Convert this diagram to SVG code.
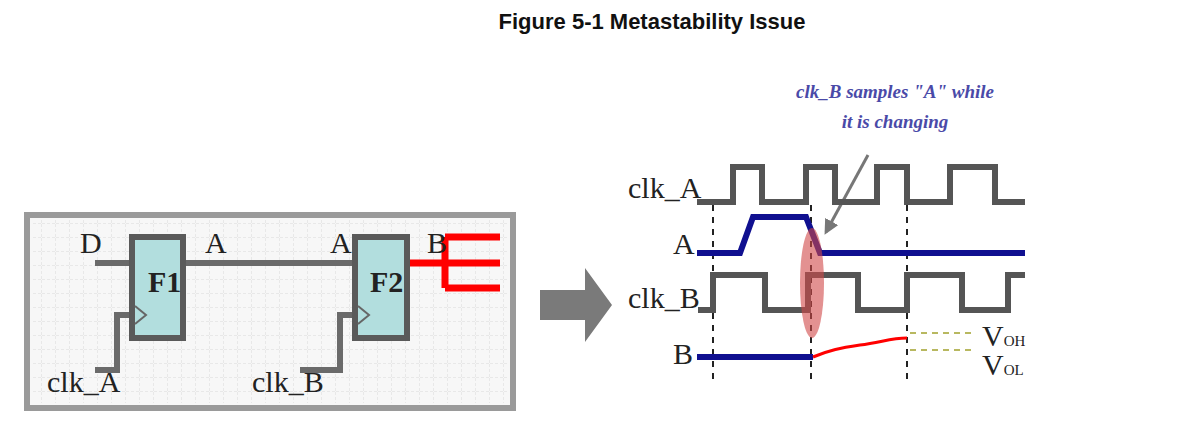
<svg xmlns="http://www.w3.org/2000/svg" width="1181" height="438" viewBox="0 0 1181 438">
<defs>
<pattern id="grid" width="14" height="14" patternUnits="userSpaceOnUse"><path d="M14 0V14M0 14H14" fill="none" stroke="#d8d8d8" stroke-width="1" stroke-dasharray="3 2"/></pattern>
<marker id="ah" viewBox="0 0 10 10" refX="8" refY="5" markerWidth="5" markerHeight="5" orient="auto"><path d="M0 0L10 5L0 10z" fill="#777"/></marker>
</defs>
<style>
.lbl{font-family:"Liberation Serif",serif;font-size:30px;fill:#222}
.ff{fill:#b2dede;stroke:#5a5a5a;stroke-width:6}
.w{fill:none;stroke:#6a6a6a;stroke-width:6}
.clk{fill:none;stroke:#555;stroke-width:6}
.sig{fill:none;stroke:#101090;stroke-width:6}
.dash{stroke:#222;stroke-width:2;stroke-dasharray:6 6}
.ol{stroke:#b8b860;stroke-width:2;stroke-dasharray:6 5}
</style>
<rect width="1181" height="438" fill="#fff"/>
<text x="652" y="29" text-anchor="middle" font-family="Liberation Sans,sans-serif" font-weight="bold" font-size="22" fill="#111">Figure 5-1 Metastability Issue</text>
<g id="board">
<rect x="27" y="215" width="486" height="193" fill="#f7f7f7" stroke="#9a9a9a" stroke-width="6"/>
<rect x="32" y="220" width="476" height="183" fill="url(#grid)"/>
</g>
<g id="connectors">
<path class="w" d="M95 263H132M183 263H355M95 370H117V315H132M300 370H340V315H355"/>
<path d="M407 263H445M445 237V288M445 237H500M445 263H500M445 288H500" fill="none" stroke="#f00" stroke-width="7"/>
<path d="M540 290H585V268L612 305L585 342V320H540Z" fill="#7a7a7a"/>
<line x1="868" y1="155" x2="826" y2="232" stroke="#777" stroke-width="3" marker-end="url(#ah)"/>
</g>
<g id="F1"><rect class="ff" x="132" y="237" width="51" height="101"/><path d="M135 306L146 315L135 324" fill="none" stroke="#666" stroke-width="2"/><text class="lbl" x="148" y="292" font-size="22" font-weight="bold" fill="#333">F1</text></g>
<g id="F2"><rect class="ff" x="355" y="237" width="52" height="101"/><path d="M358 306L369 315L358 324" fill="none" stroke="#666" stroke-width="2"/><text class="lbl" x="370" y="292" font-size="22" font-weight="bold" fill="#333">F2</text></g>
<g id="labels-left">
<text class="lbl" x="80" y="253">D</text>
<text class="lbl" x="205" y="253">A</text>
<text class="lbl" x="330" y="253">A</text>
<text class="lbl" x="427" y="253">B</text>
<text class="lbl" x="47" y="392">clk_A</text>
<text class="lbl" x="252" y="392">clk_B</text>
</g>
<g id="timing">
<line class="dash" x1="713" y1="205" x2="713" y2="380"/>
<line class="dash" x1="811" y1="205" x2="811" y2="380"/>
<line class="dash" x1="907" y1="205" x2="907" y2="380"/>
<path class="clk" d="M697 202H733V167H762V202H806V167H835V202H877V167H907V202H950V167H995V202H1025"/>
<path class="sig" d="M697 253H740L753 217H806L820 253H1025"/>
<path class="clk" d="M698 310H713V275H765V310H808V275H858V310H907V275H962V310H1008V275H1025"/>
<path class="sig" d="M697 357H813"/>
<path d="M813 357C830 350 840 348 860 345C880 343 890 338 907 338" fill="none" stroke="#f00" stroke-width="3"/>
<line class="ol" x1="910" y1="333" x2="972" y2="333"/>
<line class="ol" x1="910" y1="350" x2="972" y2="350"/>
<ellipse cx="812" cy="283" rx="12" ry="55" fill="#d04848" fill-opacity="0.6"/>
<text class="lbl" x="628" y="198">clk_A</text>
<text class="lbl" x="673" y="254">A</text>
<text class="lbl" x="628" y="308">clk_B</text>
<text class="lbl" x="673" y="364">B</text>
<text class="lbl" x="982" y="346" font-size="22">V<tspan font-size="15">OH</tspan></text>
<text class="lbl" x="982" y="375" font-size="22">V<tspan font-size="15">OL</tspan></text>
<text x="895" y="98" text-anchor="middle" font-family="Liberation Serif,serif" font-style="italic" font-weight="bold" font-size="19" fill="#4a4aa8">clk_B samples "A" while</text>
<text x="895" y="128" text-anchor="middle" font-family="Liberation Serif,serif" font-style="italic" font-weight="bold" font-size="19" fill="#4a4aa8">it is changing</text>
</g>
</svg>
